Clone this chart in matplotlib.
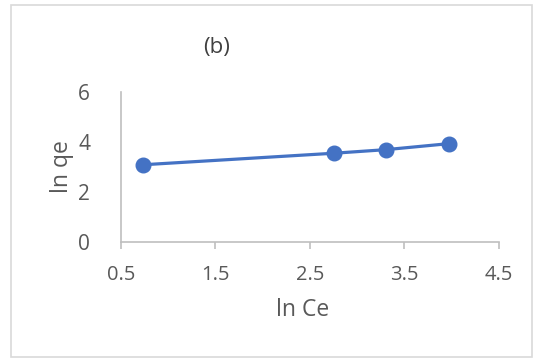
import matplotlib
matplotlib.use("Agg")
import matplotlib.pyplot as plt
from matplotlib.patches import Rectangle

ln_ce = [0.74, 2.76, 3.30, 3.97]
ln_qe = [3.09, 3.55, 3.69, 3.93]
x_ticks = [0.5, 1.5, 2.5, 3.5, 4.5]
y_ticks = [0, 2, 4, 6]
title = "(b)"
x_label = "ln Ce"
y_label = "ln qe"

plt.rcParams['font.family'] = ['Open Sans', 'DejaVu Sans']
W, H = 534, 360
fig = plt.figure(figsize=(W/100, H/100), dpi=100)
fig.patch.set_facecolor('white')
fig.add_artist(Rectangle((11/W, 3/H), 521/W, 352/H, transform=fig.transFigure,
                         fill=False, edgecolor='#D9D9D9', linewidth=1.2))

ax = fig.add_axes([120.7/W, 1-242.3/H, (499-120.7)/W, (242.3-91.7)/H])
ax.plot(ln_ce, ln_qe, color='#4472C4', linewidth=2.3, marker='o',
        markersize=10.5, markerfacecolor='#4472C4', markeredgecolor='#4472C4',
        clip_on=False, zorder=3)
ax.set_xlim(0.5, 4.5)
ax.set_ylim(0, 6)
ax.set_xticks(x_ticks)
ax.set_xticklabels([str(v) for v in x_ticks])
ax.set_yticks(y_ticks)
ax.set_yticklabels([str(v) for v in y_ticks])
for s in ['top', 'right']:
    ax.spines[s].set_visible(False)
for s in ['left', 'bottom']:
    ax.spines[s].set_color('#BFBFBF')
    ax.spines[s].set_linewidth(1.2)
ax.tick_params(axis='x', length=5, width=1.2, color='#BFBFBF', labelsize=14.5,
               labelcolor='#595959', pad=11)
ax.tick_params(axis='y', length=0, labelsize=15, labelcolor='#595959', pad=22)
fig.text(303/W, 1-310/H, x_label, ha='center', va='center', fontsize=16.5, color='#595959')
fig.text(62/W, 1-167/H, y_label, ha='center', va='center', rotation=90, fontsize=16.5, color='#595959')
fig.text(217/W, 1-47/H, title, ha='center', va='center', fontsize=16, color='#404040')

fig.savefig('out.png', dpi=100)
